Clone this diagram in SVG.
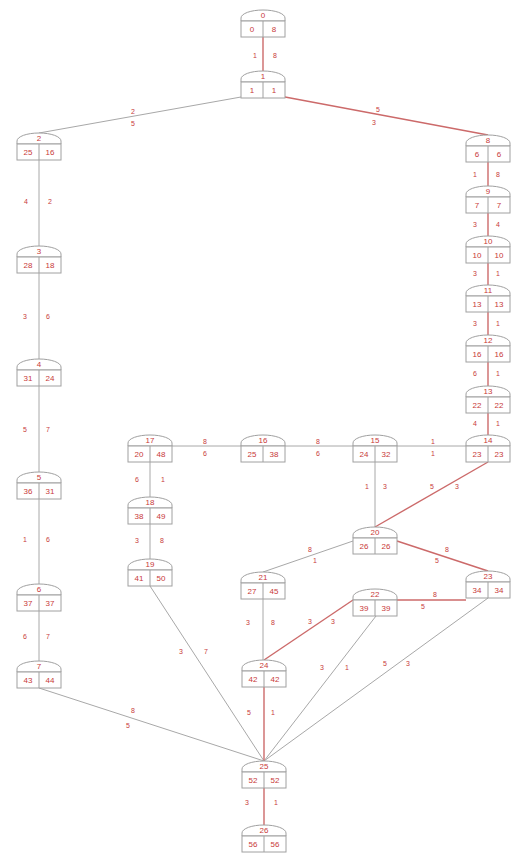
<svg xmlns="http://www.w3.org/2000/svg" width="515" height="855" viewBox="0 0 515 855">
<defs>
<style>
.e{stroke:#a8a8a8;stroke-width:1;fill:none}
.h{stroke:#cc6a6a;stroke-width:1.4;fill:none}
.s{stroke:#a0a0a0;stroke-width:1;fill:#fff}
text{font-family:"Liberation Sans",Arial,sans-serif;font-size:7px;fill:#c83a3a;text-anchor:middle}
.nd text{font-size:8px}
</style>
<g id="shape">
<path class="s" d="M-22,0 V-3 A22,8 0 0 1 22,-3 V0 Z"/>
<rect class="s" x="-22" y="0" width="44" height="16"/>
<line class="s" x1="0" y1="0" x2="0" y2="16"/>
</g>
</defs>
<rect width="515" height="855" fill="#fff"/>
<g id="edges">
<line class="h" x1="263" y1="37" x2="263" y2="71"/>
<line class="e" x1="241" y1="97" x2="39" y2="133"/>
<line class="h" x1="285" y1="97" x2="488" y2="135"/>
<line class="e" x1="39" y1="160" x2="39" y2="246"/>
<line class="e" x1="39" y1="273" x2="39" y2="359"/>
<line class="e" x1="39" y1="386" x2="39" y2="472"/>
<line class="e" x1="39" y1="499" x2="39" y2="584"/>
<line class="e" x1="39" y1="611" x2="39" y2="661"/>
<line class="h" x1="488" y1="162" x2="488" y2="186"/>
<line class="h" x1="488" y1="213" x2="488" y2="236"/>
<line class="h" x1="488" y1="263" x2="488" y2="285"/>
<line class="h" x1="488" y1="312" x2="488" y2="335"/>
<line class="h" x1="488" y1="362" x2="488" y2="386"/>
<line class="h" x1="488" y1="413" x2="488" y2="435"/>
<line class="e" x1="466" y1="446" x2="397" y2="446"/>
<line class="e" x1="353" y1="446" x2="285" y2="446"/>
<line class="e" x1="241" y1="446" x2="172" y2="446"/>
<line class="e" x1="150" y1="462" x2="150" y2="497"/>
<line class="e" x1="150" y1="524" x2="150" y2="559"/>
<line class="e" x1="150" y1="586" x2="264" y2="761"/>
<line class="e" x1="375" y1="462" x2="375" y2="527"/>
<line class="h" x1="488" y1="462" x2="375" y2="527"/>
<line class="e" x1="353" y1="541" x2="263" y2="572"/>
<line class="h" x1="397" y1="541" x2="488" y2="571"/>
<line class="h" x1="466" y1="600" x2="397" y2="600"/>
<line class="h" x1="353" y1="600" x2="264" y2="660"/>
<line class="e" x1="376" y1="616" x2="264" y2="761"/>
<line class="e" x1="488" y1="598" x2="264" y2="761"/>
<line class="e" x1="263" y1="599" x2="263" y2="660"/>
<line class="h" x1="264" y1="687" x2="264" y2="761"/>
<line class="e" x1="39" y1="688" x2="264" y2="761"/>
<line class="h" x1="264" y1="788" x2="264" y2="825"/>
<text x="255" y="58">1</text><text x="275" y="58">8</text>
<text x="133" y="114">2</text><text x="133" y="126">5</text>
<text x="378" y="112">5</text><text x="374" y="125">3</text>
<text x="26" y="204">4</text><text x="50" y="204">2</text>
<text x="25" y="319">3</text><text x="48" y="319">6</text>
<text x="25" y="432">5</text><text x="48" y="432">7</text>
<text x="25" y="542">1</text><text x="48" y="542">6</text>
<text x="25" y="639">6</text><text x="48" y="639">7</text>
<text x="475" y="177">1</text><text x="498" y="177">8</text>
<text x="475" y="227">3</text><text x="498" y="227">4</text>
<text x="475" y="276">3</text><text x="498" y="276">1</text>
<text x="475" y="326">3</text><text x="498" y="326">1</text>
<text x="475" y="376">6</text><text x="498" y="376">1</text>
<text x="475" y="426">4</text><text x="498" y="426">1</text>
<text x="433" y="444">1</text><text x="433" y="456">1</text>
<text x="318" y="444">8</text><text x="318" y="456">6</text>
<text x="205" y="444">8</text><text x="205" y="456">6</text>
<text x="137" y="482">6</text><text x="163" y="482">1</text>
<text x="137" y="543">3</text><text x="162" y="543">8</text>
<text x="181" y="654">3</text><text x="206" y="654">7</text>
<text x="367" y="489">1</text><text x="385" y="489">3</text>
<text x="432" y="489">5</text><text x="457" y="489">3</text>
<text x="310" y="552">8</text><text x="315" y="563">1</text>
<text x="447" y="552">8</text><text x="437" y="563">5</text>
<text x="435" y="597">8</text><text x="423" y="609">5</text>
<text x="310" y="624">3</text><text x="333" y="624">3</text>
<text x="248" y="625">3</text><text x="273" y="625">8</text>
<text x="322" y="670">3</text><text x="347" y="670">1</text>
<text x="385" y="666">5</text><text x="408" y="666">3</text>
<text x="249" y="715">5</text><text x="273" y="715">1</text>
<text x="133" y="713">8</text><text x="128" y="728">5</text>
<text x="247" y="805">3</text><text x="276" y="805">1</text>
</g>
<g id="n0" class="nd" transform="translate(263,21)"><use href="#shape"/><text y="-3">0</text><text x="-11" y="11">0</text><text x="11" y="11">8</text></g>
<g id="n1" class="nd" transform="translate(263,82)"><use href="#shape"/><text y="-3">1</text><text x="-11" y="11">1</text><text x="11" y="11">1</text></g>
<g id="a1" class="nd" transform="translate(39,144)"><use href="#shape"/><text y="-3">2</text><text x="-11" y="11">25</text><text x="11" y="11">16</text></g>
<g id="a2" class="nd" transform="translate(39,257)"><use href="#shape"/><text y="-3">3</text><text x="-11" y="11">28</text><text x="11" y="11">18</text></g>
<g id="a3" class="nd" transform="translate(39,370)"><use href="#shape"/><text y="-3">4</text><text x="-11" y="11">31</text><text x="11" y="11">24</text></g>
<g id="a4" class="nd" transform="translate(39,483)"><use href="#shape"/><text y="-3">5</text><text x="-11" y="11">36</text><text x="11" y="11">31</text></g>
<g id="a5" class="nd" transform="translate(39,595)"><use href="#shape"/><text y="-3">6</text><text x="-11" y="11">37</text><text x="11" y="11">37</text></g>
<g id="a6" class="nd" transform="translate(39,672)"><use href="#shape"/><text y="-3">7</text><text x="-11" y="11">43</text><text x="11" y="11">44</text></g>
<g id="b1" class="nd" transform="translate(488,146)"><use href="#shape"/><text y="-3">8</text><text x="-11" y="11">6</text><text x="11" y="11">6</text></g>
<g id="b2" class="nd" transform="translate(488,197)"><use href="#shape"/><text y="-3">9</text><text x="-11" y="11">7</text><text x="11" y="11">7</text></g>
<g id="b3" class="nd" transform="translate(488,247)"><use href="#shape"/><text y="-3">10</text><text x="-11" y="11">10</text><text x="11" y="11">10</text></g>
<g id="b4" class="nd" transform="translate(488,296)"><use href="#shape"/><text y="-3">11</text><text x="-11" y="11">13</text><text x="11" y="11">13</text></g>
<g id="b5" class="nd" transform="translate(488,346)"><use href="#shape"/><text y="-3">12</text><text x="-11" y="11">16</text><text x="11" y="11">16</text></g>
<g id="b6" class="nd" transform="translate(488,397)"><use href="#shape"/><text y="-3">13</text><text x="-11" y="11">22</text><text x="11" y="11">22</text></g>
<g id="b7" class="nd" transform="translate(488,446)"><use href="#shape"/><text y="-3">14</text><text x="-11" y="11">23</text><text x="11" y="11">23</text></g>
<g id="c1" class="nd" transform="translate(375,446)"><use href="#shape"/><text y="-3">15</text><text x="-11" y="11">24</text><text x="11" y="11">32</text></g>
<g id="c2" class="nd" transform="translate(263,446)"><use href="#shape"/><text y="-3">16</text><text x="-11" y="11">25</text><text x="11" y="11">38</text></g>
<g id="c3" class="nd" transform="translate(150,446)"><use href="#shape"/><text y="-3">17</text><text x="-11" y="11">20</text><text x="11" y="11">48</text></g>
<g id="d1" class="nd" transform="translate(150,508)"><use href="#shape"/><text y="-3">18</text><text x="-11" y="11">38</text><text x="11" y="11">49</text></g>
<g id="d2" class="nd" transform="translate(150,570)"><use href="#shape"/><text y="-3">19</text><text x="-11" y="11">41</text><text x="11" y="11">50</text></g>
<g id="dm" class="nd" transform="translate(375,538)"><use href="#shape"/><text y="-3">20</text><text x="-11" y="11">26</text><text x="11" y="11">26</text></g>
<g id="lf" class="nd" transform="translate(263,583)"><use href="#shape"/><text y="-3">21</text><text x="-11" y="11">27</text><text x="11" y="11">45</text></g>
<g id="md" class="nd" transform="translate(375,600)"><use href="#shape"/><text y="-3">22</text><text x="-11" y="11">39</text><text x="11" y="11">39</text></g>
<g id="rt" class="nd" transform="translate(488,582)"><use href="#shape"/><text y="-3">23</text><text x="-11" y="11">34</text><text x="11" y="11">34</text></g>
<g id="bb" class="nd" transform="translate(264,671)"><use href="#shape"/><text y="-3">24</text><text x="-11" y="11">42</text><text x="11" y="11">42</text></g>
<g id="mg" class="nd" transform="translate(264,772)"><use href="#shape"/><text y="-3">25</text><text x="-11" y="11">52</text><text x="11" y="11">52</text></g>
<g id="fn" class="nd" transform="translate(264,836)"><use href="#shape"/><text y="-3">26</text><text x="-11" y="11">56</text><text x="11" y="11">56</text></g>
</svg>
